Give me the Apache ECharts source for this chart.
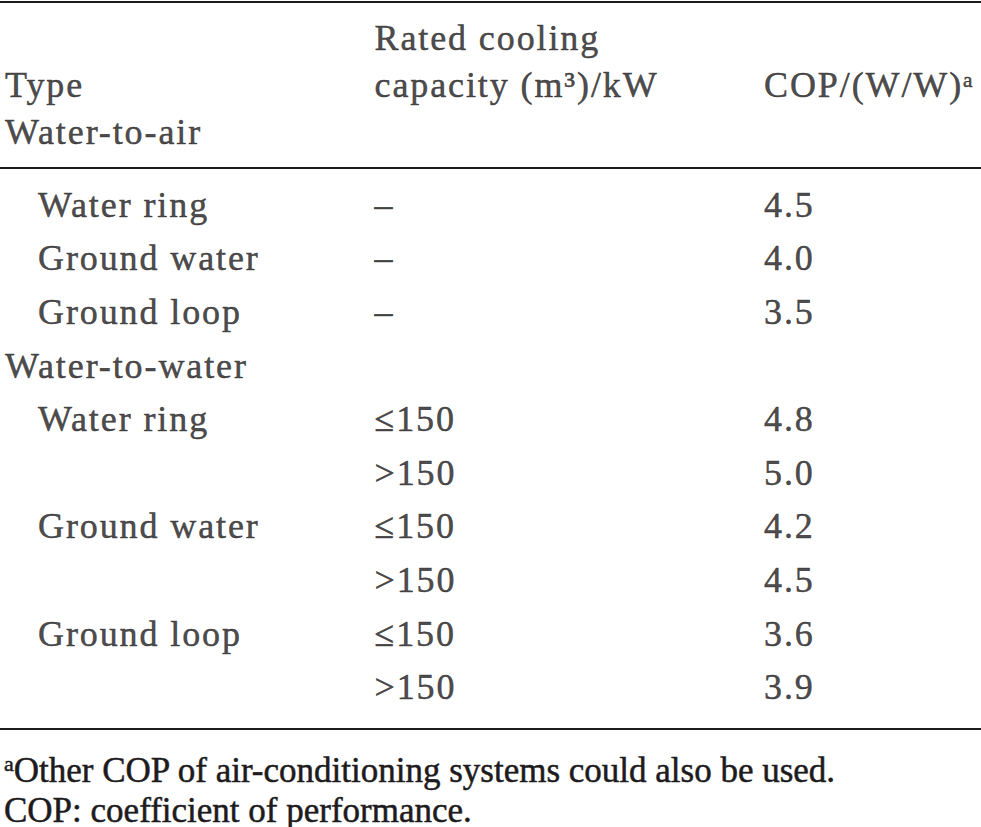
<!DOCTYPE html>
<html>
<head>
<meta charset="utf-8">
<script src="https://cdn.jsdelivr.net/npm/echarts@6/dist/echarts.min.js"></script>
<style>
  html, body { margin: 0; padding: 0; background: #fff; }
  #tbl { width: 981px; height: 827px; }
  /* table cells are set a little wider than the footnotes */
  #tbl text[fill="#1d1b1c"] { letter-spacing: 1.9px; }
</style>
</head>
<body>
<div id="tbl"></div>
<script>
// header lines (three text lines per column)
var headType = ['', 'Type', 'Water-to-air'];
var headCap = ['Rated cooling', 'capacity (m³)/kW', ''];
var headCop = ['', 'COP/(W/W)ᵃ', ''];

// body rows
var rowType = ['Water ring', 'Ground water', 'Ground loop', 'Water-to-water', 'Water ring', '', 'Ground water', '', 'Ground loop', ''];
var rowIndent = [1, 1, 1, 0, 1, 0, 1, 0, 1, 0];
var rowCap = ['–', '–', '–', '', '≤150', '>150', '≤150', '>150', '≤150', '>150'];
var rowCop = ['4.5', '4.0', '3.5', '', '4.8', '5.0', '4.2', '4.5', '3.6', '3.9'];

var notes = ['{sup|a}Other COP of air-conditioning systems could also be used.',
             'COP: coefficient of performance.'];

var columns = ['type', 'capacity', 'cop'];
var FONT = '"Liberation Serif", "Times New Roman", serif';
var FS = 36;
var INK = '#1d1b1c';
var NOTE_INK = '#1d1b1d';

function cellSeries(grid, col, texts, indents) {
    var data = [];
    for (var i = 0; i < texts.length; i++) {
        if (!texts[i]) continue;
        var off = [0, 0];
        if (col == 1) off[0] = -10;
        if (indents && indents[i]) off[0] += 33;
        data.push({ value: [col, i, texts[i]], label: { offset: off } });
    }
    return {
        type: 'scatter',
        xAxisIndex: grid,
        yAxisIndex: grid,
        symbolSize: 0,
        silent: true,
        data: data,
        label: {
            show: true,
            position: 'right',
            distance: 0,
            formatter: function (p) { return p.value[2]; },
            fontFamily: FONT,
            fontSize: FS,
            color: INK,
            textBorderColor: INK,
            textBorderWidth: 0.5
        }
    };
}

function hidden(type, data, idx, inverse) {
    var a = { type: type, gridIndex: idx, show: false, data: data, inverse: !!inverse };
    a.boundaryGap = type == 'category' && inverse ? true : false;
    return a;
}

var rowIdx = rowType.map(function (d, i) { return 'r' + i; });
var headIdx = ['h0', 'h1', 'h2'];

var myChart = echarts.init(document.getElementById('tbl'), null, { renderer: 'svg' });
var option = {
    backgroundColor: '#FFFFFF',
    animation: false,
    grid: [
        { left: 5, right: 217, top: 14, height: 142 },
        { left: 5, right: 217, top: 178, height: 536 }
    ],
    xAxis: [hidden('category', columns, 0), hidden('category', columns, 1)],
    yAxis: [hidden('category', headIdx, 0, true), hidden('category', rowIdx, 1, true)],
    series: [
        cellSeries(0, 0, headType),
        cellSeries(0, 1, headCap),
        cellSeries(0, 2, headCop),
        cellSeries(1, 0, rowType, rowIndent),
        cellSeries(1, 1, rowCap),
        cellSeries(1, 2, rowCop)
    ],
    graphic: [
        { type: 'rect', shape: { x: 0, y: 1, width: 981, height: 2 }, style: { fill: INK } },
        { type: 'rect', shape: { x: 0, y: 167, width: 981, height: 2 }, style: { fill: INK } },
        { type: 'rect', shape: { x: 0, y: 728, width: 981, height: 2 }, style: { fill: INK } },
        { type: 'text', x: 4, y: 770, style: { text: notes[0], fontFamily: FONT, fontSize: 35, fill: NOTE_INK,
            stroke: NOTE_INK, lineWidth: 0.5,
            verticalAlign: 'middle', rich: { sup: { fontFamily: FONT, fontSize: 22, fill: NOTE_INK, verticalAlign: 'top' } } } },
        { type: 'text', x: 4, y: 810, style: { text: notes[1], fontFamily: FONT, fontSize: 35, fill: NOTE_INK,
            stroke: NOTE_INK, lineWidth: 0.5, verticalAlign: 'middle' } }
    ]
};
myChart.setOption(option);
</script>
</body>
</html>
